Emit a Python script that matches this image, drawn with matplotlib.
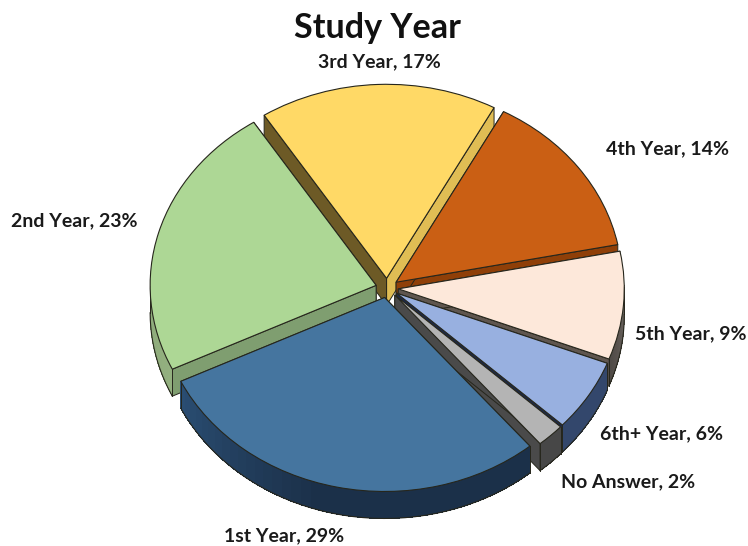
import numpy as np
import matplotlib
matplotlib.use("Agg")
import matplotlib.pyplot as plt
from matplotlib.colors import to_rgb

categories = ["1st Year", "2nd Year", "3rd Year", "4th Year", "5th Year", "6th+ Year", "No Answer"]
values = [29, 23, 17, 14, 9, 6, 2]
top_colors = ["#45759f", "#add795", "#ffd966", "#ca5f14", "#fde8da", "#98b0e0", "#b4b4b4"]
# wall colours: outer rim (light, dark), start-edge wall, end-edge wall
rim_colors = [("#2a4d72", "#1b3049"), ("#7f9c6c", "#93b07f"), ("#bfa24c", "#bfa24c"),
              ("#8f3f08", "#8f3f08"), ("#4f4a46", "#7a726b"), ("#33476c", "#33476c"), ("#474747", "#474747")]
edge_walls = [("#1a2e47", "#1a2e47"), ("#6d5a26", "#7f9e70"), ("#e0bd54", "#6d5a26"),
              ("#8f3f08", "#8f3f08"), ("#5f564f", "#5f564f"), ("#1d2a48", "#1d2a48"), ("#4a4a4a", "#4a4a4a")]
draw_order = [2, 1, 3, 4, 5, 6, 0]

W, H = 748, 546
CX, CY = 387, 288
RX, RY = 226, 194
DEPTH = 27 / RY
EDGE = "#26261c"
label_px = [(284, 536), (74, 221), (379, 62), (668, 149), (691, 334), (661, 434), (628, 482)]

plt.rcParams["font.family"] = ["Lato", "DejaVu Sans"]
fig = plt.figure(figsize=(W / 100, H / 100), dpi=100)
ax = fig.add_axes([0, 0, 1, 1])
wedges, _ = ax.pie(values, colors=top_colors, startangle=310, counterclock=False,
                   explode=[0.05] * len(values),
                   wedgeprops=dict(edgecolor=EDGE, linewidth=0.8))
ax.set_aspect("auto")
ax.set_xlim(-CX / RX, (W - CX) / RX)
ax.set_ylim((CY - H) / RY, CY / RY)
ax.axis("off")


def wall(xs, ys, color, z):
    px = list(xs) + list(xs)[::-1]
    py = list(ys) + [y - DEPTH for y in list(ys)[::-1]]
    ax.fill(px, py, facecolor=color, edgecolor=EDGE, linewidth=0.7, zorder=z, joinstyle="round")


for rank, i in enumerate(draw_order):
    w = wedges[i]
    z = 2 + rank * 2
    (x0, y0), r = w.center, w.r
    t1, t2 = w.theta1, w.theta2
    # straight edge walls
    for t, col in zip((t1, t2), edge_walls[i]):
        a = np.radians(t)
        wall([x0, x0 + r * np.cos(a)], [y0, y0 + r * np.sin(a)], col, z)
    # outer rim, shaded strip by strip
    ts = np.radians(np.linspace(t1, t2, 40))
    c0, c1 = np.array(to_rgb(rim_colors[i][0])), np.array(to_rgb(rim_colors[i][1]))
    xs = x0 + r * np.cos(ts)
    ys = y0 + r * np.sin(ts)
    for k in range(len(ts) - 1):
        if np.sin((ts[k] + ts[k + 1]) / 2) > 0.02:
            continue
        f = min(1.0, k / (len(ts) - 2))
        if i == 0:
            # the big slice reaches its darkest tone before the middle of the arc
            f = min(1.0, f / 0.45)
        col = c0 + (c1 - c0) * f
        ax.fill([xs[k], xs[k + 1], xs[k + 1], xs[k]],
                [ys[k], ys[k + 1], ys[k + 1] - DEPTH, ys[k] - DEPTH],
                facecolor=col, edgecolor="none", antialiased=False, zorder=z)
    low = np.sin(ts) <= 0.02
    if low.any():
        ax.plot(xs[low], ys[low] - DEPTH, color=EDGE, linewidth=0.8, zorder=z + 0.5)
        for a in (ts[low][0], ts[low][-1]):
            ax.plot([x0 + r * np.cos(a)] * 2, [y0 + r * np.sin(a), y0 + r * np.sin(a) - DEPTH],
                    color=EDGE, linewidth=0.7, zorder=z + 0.5)
    w.set_zorder(z + 1)

fig.text(377 / W, 1 - 28 / H, "Study Year", ha="center", va="center",
         fontsize=24.6, fontweight="bold", color="#111111")
for cat, v, (px, py) in zip(categories, values, label_px):
    fig.text(px / W, 1 - py / H, f"{cat}, {v}%", ha="center", va="center",
             fontsize=14, fontweight="bold", color="#1a1a1a")

fig.savefig("out.png", dpi=100, facecolor="white")
